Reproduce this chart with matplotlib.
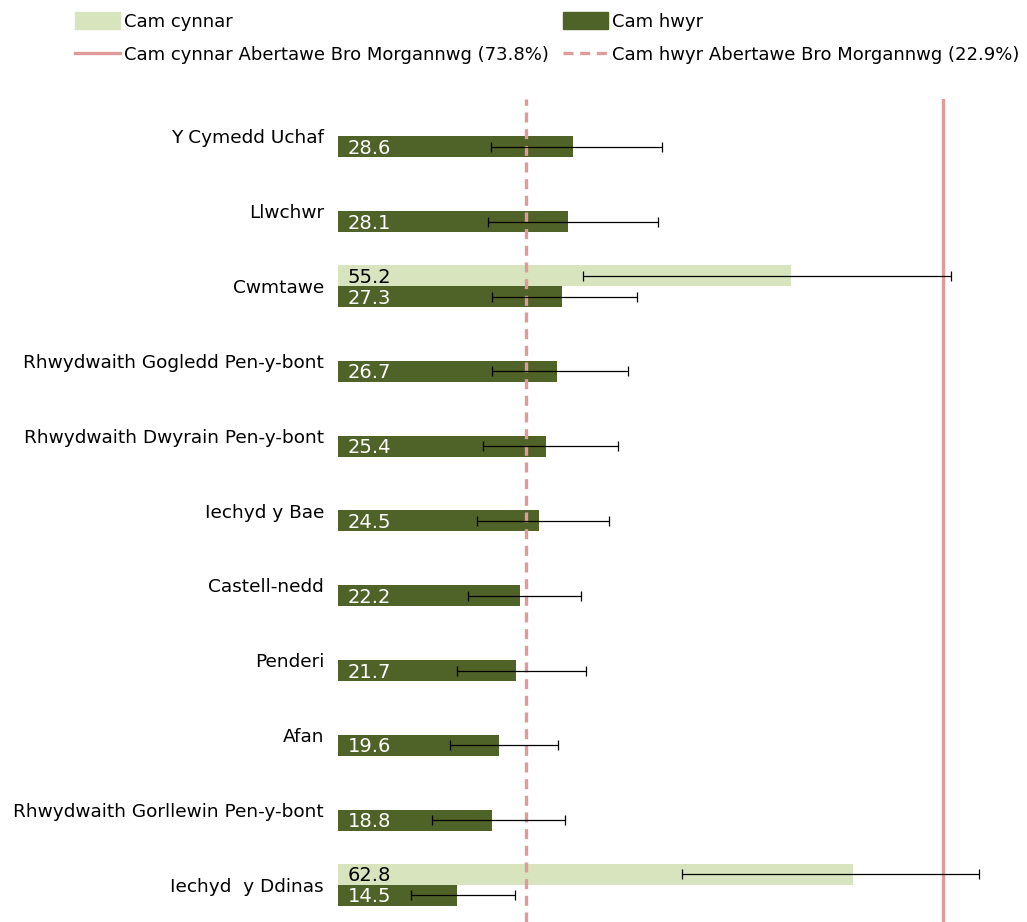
import matplotlib.pyplot as plt
import numpy as np
from matplotlib.lines import Line2D
from matplotlib.patches import Patch

# clystyrau, o'r brig i'r gwaelod
clystyrau = ["Y Cymedd Uchaf", "Llwchwr", "Cwmtawe", "Rhwydwaith Gogledd Pen-y-bont",
             "Rhwydwaith Dwyrain Pen-y-bont", "Iechyd y Bae", "Castell-nedd", "Penderi",
             "Afan", "Rhwydwaith Gorllewin Pen-y-bont", "Iechyd  y Ddinas"]

# cam hwyr
hwyr = [28.6, 28.1, 27.3, 26.7, 25.4, 24.5, 22.2, 21.7, 19.6, 18.8, 14.5]
hwyr_isaf = [18.7, 18.3, 18.8, 18.8, 17.7, 17.0, 15.9, 14.5, 13.7, 11.5, 8.9]
hwyr_uchaf = [39.5, 39.0, 36.5, 35.4, 34.1, 33.0, 29.6, 30.2, 26.8, 27.7, 21.6]

# cam cynnar (dim ond dau glwstwr)
cynnar_idx = [2, 10]
cynnar = [55.2, 62.8]
cynnar_isaf = [29.9, 41.9]
cynnar_uchaf = [74.7, 78.1]

cyf_cynnar = 73.8
cyf_hwyr = 22.9

gwyrdd_golau = "#d7e4bd"
gwyrdd_tywyll = "#4f6228"
pinc = "#e09a9a"

fig = plt.figure(figsize=(10.27, 9.22), dpi=100)
ax = fig.add_axes([338 / 1027, 0, 1 - 338 / 1027, 823 / 922])

y = np.arange(len(clystyrau))
h = 0.28

hwyr = np.array(hwyr)
ax.barh(y + h / 2, hwyr, height=h, color=gwyrdd_tywyll, zorder=2)
ax.errorbar(hwyr, y + h / 2,
            xerr=[hwyr - np.array(hwyr_isaf), np.array(hwyr_uchaf) - hwyr],
            fmt="none", ecolor="black", elinewidth=0.9, capsize=3.5, capthick=0.9, zorder=4)

cynnar = np.array(cynnar)
yc = y[cynnar_idx] - h / 2
ax.barh(yc, cynnar, height=h, color=gwyrdd_golau, zorder=2)
ax.errorbar(cynnar, yc,
            xerr=[cynnar - np.array(cynnar_isaf), np.array(cynnar_uchaf) - cynnar],
            fmt="none", ecolor="black", elinewidth=0.9, capsize=3.5, capthick=0.9, zorder=4)

for yy, v in zip(y + h / 2, hwyr):
    ax.text(1.2, yy + 0.02, f"{v:.1f}", color="white", fontsize=14, va="center", ha="left", zorder=5)
for yy, v in zip(yc, cynnar):
    ax.text(1.2, yy + 0.02, f"{v:.1f}", color="black", fontsize=14, va="center", ha="left", zorder=5)

ax.axvline(cyf_cynnar, color=pinc, lw=2.4, zorder=3)
ax.axvline(cyf_hwyr, color=pinc, lw=2.4, ls=(0, (3, 2)), zorder=3)

ax.set_xlim(0, 84)
ax.set_ylim(len(clystyrau) - 0.5, -0.5)
ax.set_yticks(y)
ax.set_yticklabels(clystyrau, fontsize=13.3)
ax.tick_params(axis="y", length=0, pad=10)
ax.set_xticks([])
for s in ax.spines.values():
    s.set_visible(False)

handles = [
    Patch(color=gwyrdd_golau, label="Cam cynnar"),
    Patch(color=gwyrdd_tywyll, label="Cam hwyr"),
    Line2D([], [], color=pinc, lw=2.4, label=f"Cam cynnar Abertawe Bro Morgannwg ({cyf_cynnar}%)"),
    Line2D([], [], color=pinc, lw=2.4, ls=(0, (3, 2)), label=f"Cam hwyr Abertawe Bro Morgannwg ({cyf_hwyr}%)"),
]
fig.legend(handles=[handles[0], handles[2], handles[1], handles[3]], ncol=2, loc="upper left",
           bbox_to_anchor=(75 / 1027, 1 - 12 / 922), frameon=False, fontsize=13,
           handlelength=2.5, handleheight=1.1, handletextpad=0.2, columnspacing=0.8,
           labelspacing=0.8, borderaxespad=0, borderpad=0)

fig.savefig("out.png", dpi=100)
